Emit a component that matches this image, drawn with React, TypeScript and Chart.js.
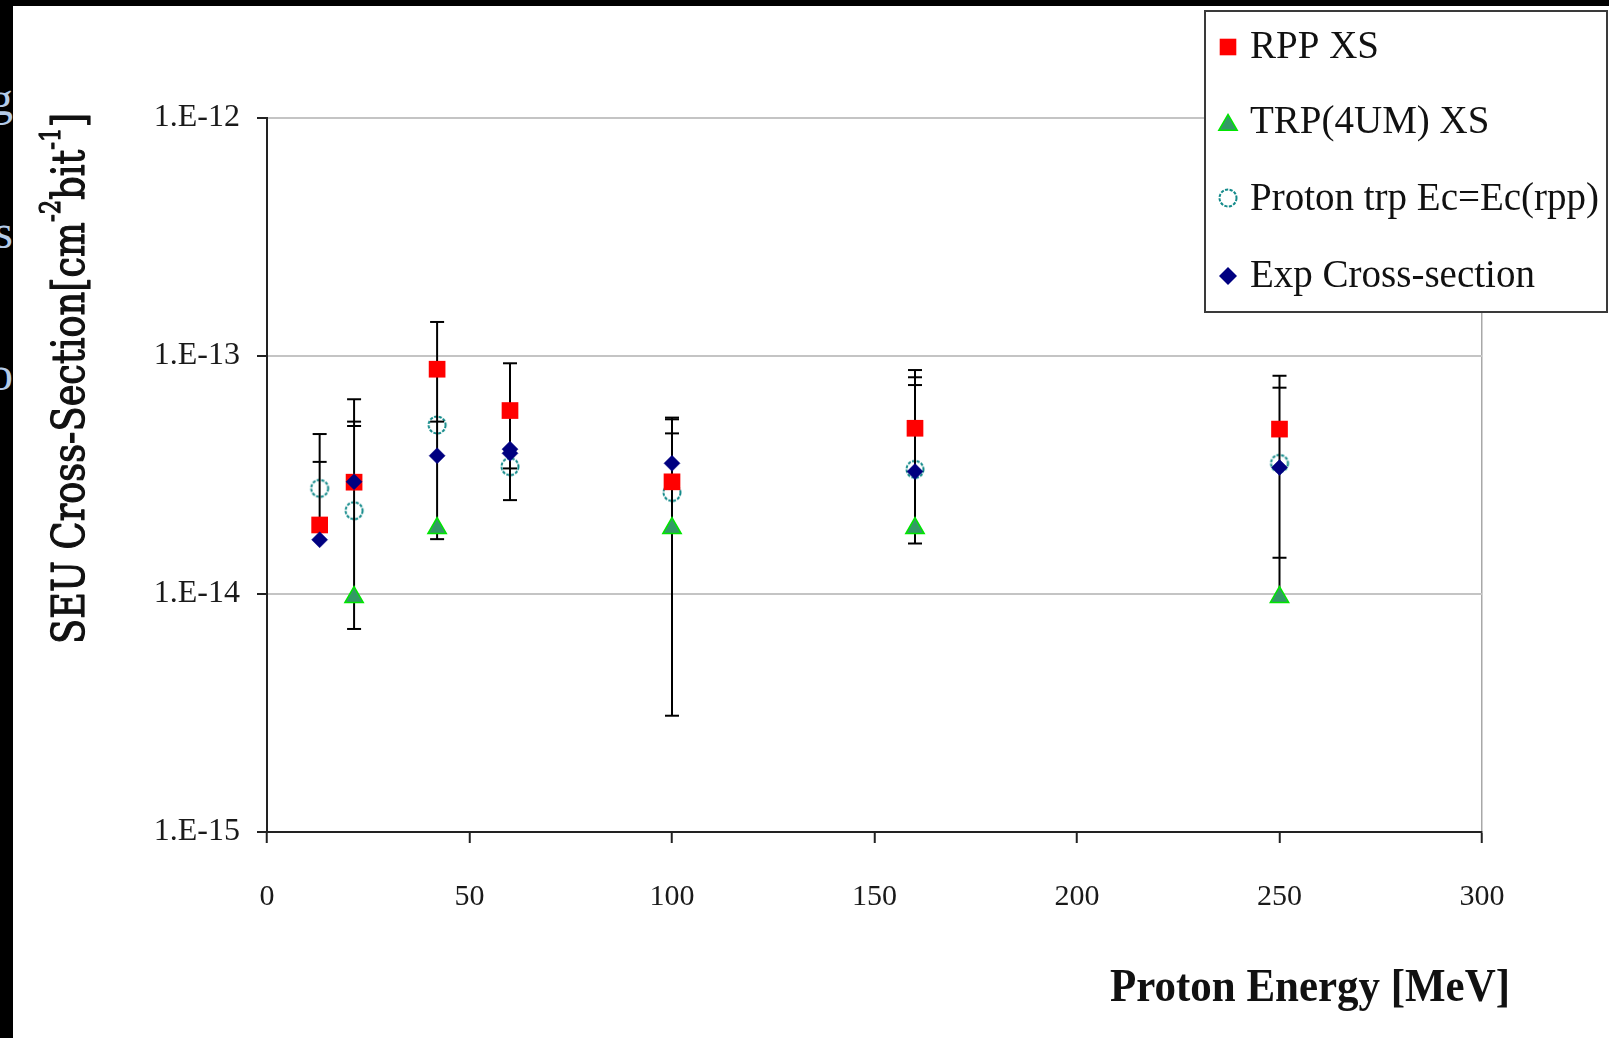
import React, { useEffect, useRef } from 'react';
import { Chart, registerables } from 'chart.js';

Chart.register(...registerables);

// ---- data ----
const rppX = [13, 21.5, 42, 60, 100, 160, 250];
const rppY = [1.95e-14, 2.95e-14, 8.8e-14, 5.9e-14, 2.96e-14, 4.97e-14, 4.93e-14];

const trpX = [21.5, 42, 100, 160, 250];
const trpY = [9.7e-15, 1.89e-14, 1.89e-14, 1.89e-14, 9.7e-15];

const protonX = [13, 21.5, 42, 60, 100, 160, 250];
const protonY = [2.78e-14, 2.24e-14, 5.13e-14, 3.43e-14, 2.67e-14, 3.34e-14, 3.54e-14];

const expX = [13, 21.5, 42, 60, 60, 100, 160, 250];
const expY = [1.69e-14, 2.96e-14, 3.81e-14, 4.06e-14, 3.9e-14, 3.54e-14, 3.27e-14, 3.4e-14];

const errX = [13, 21.5, 42, 60, 100, 160, 250];
const errHigh = [4.7e-14, 6.58e-14, 1.39e-13, 9.32e-14, 5.5e-14, 8.73e-14, 8.26e-14];
const errLow = [1.95e-14, 7.13e-15, 1.7e-14, 2.48e-14, 3.08e-15, 1.63e-14, 9.7e-15];
const errCaps = [
  [4.7e-14, 3.59e-14],
  [6.58e-14, 5.3e-14, 5.08e-14, 7.13e-15],
  [1.39e-13, 5.3e-14, 1.7e-14],
  [9.32e-14, 3.37e-14, 2.48e-14],
  [5.51e-14, 5.42e-14, 4.73e-14, 3.08e-15],
  [8.73e-14, 8.14e-14, 7.55e-14, 1.63e-14],
  [8.26e-14, 7.36e-14, 1.42e-14],
];

const yTicks = [1e-15, 1e-14, 1e-13, 1e-12];
const yTickLabels = ['1.E-15', '1.E-14', '1.E-13', '1.E-12'];
const xTicks = [0, 50, 100, 150, 200, 250, 300];
const xTickLabels = ['0', '50', '100', '150', '200', '250', '300'];

const seriesNames = ['RPP XS', 'TRP(4UM) XS', 'Proton trp Ec=Ec(rpp)', 'Exp Cross-section'];
const xTitle = 'Proton Energy [MeV]';
const yTitleParts = [
  { t: 'SEU Cross-Section[cm', sup: false },
  { t: '-2', sup: true },
  { t: 'bit', sup: false },
  { t: '-1', sup: true },
  { t: ']', sup: false },
];

const RED = '#ff0000';
const NAVY = '#000080';
const TRI_FILL = '#339966';
const TRI_EDGE = '#00e600';
const TEAL = '#138a8a';

function makeCircle(): HTMLCanvasElement {
  const c = document.createElement('canvas');
  c.width = 24;
  c.height = 24;
  const g = c.getContext('2d')!;
  g.strokeStyle = TEAL;
  g.lineWidth = 2;
  g.setLineDash([3.2, 1.4]);
  g.beginPath();
  g.arc(12, 12, 8.5, 0, Math.PI * 2);
  g.stroke();
  return c;
}

export default function App() {
  const ref = useRef<HTMLCanvasElement | null>(null);

  useEffect(() => {
    if (!ref.current) return;
    const circleImg = makeCircle();

    const errorBars = {
      id: 'errorBars',
      beforeDatasetDraw(chart: any, args: any) {
        if (args.index !== 2) return;
        const { ctx } = chart;
        const x = chart.scales.x;
        const y = chart.scales.y;
        ctx.save();
        ctx.strokeStyle = '#000';
        ctx.lineWidth = 2;
        errX.forEach((e, i) => {
          const px = x.getPixelForValue(e);
          ctx.beginPath();
          ctx.moveTo(px, y.getPixelForValue(errHigh[i]));
          ctx.lineTo(px, y.getPixelForValue(errLow[i]));
          ctx.stroke();
          errCaps[i].forEach((c) => {
            const py = y.getPixelForValue(c);
            ctx.beginPath();
            ctx.moveTo(px - 7, py);
            ctx.lineTo(px + 7, py);
            ctx.stroke();
          });
        });
        ctx.restore();
      },
    };

    const decorations = {
      id: 'decorations',
      afterDraw(chart: any) {
        const ctx: CanvasRenderingContext2D = chart.ctx;
        // ---- y title (rotated) ----
        ctx.save();
        ctx.fillStyle = '#111';
        ctx.strokeStyle = '#111';
        ctx.lineWidth = 1.1;
        ctx.lineJoin = 'round';
        const mainFont = '40px "DejaVu Serif"';
        const supFont = '25px "DejaVu Serif"';
        let total = 0;
        yTitleParts.forEach((p) => {
          ctx.font = p.sup ? supFont : mainFont;
          total += ctx.measureText(p.t).width;
        });
        ctx.translate(84, 644);
        ctx.rotate(-Math.PI / 2);
        ctx.scale(531 / total, 32 / (0.729 * 40));
        ctx.textBaseline = 'alphabetic';
        let cx = 0;
        yTitleParts.forEach((p) => {
          ctx.font = p.sup ? supFont : mainFont;
          const yy = p.sup ? -22 : 0;
          ctx.fillText(p.t, cx, yy);
          ctx.strokeText(p.t, cx, yy);
          cx += ctx.measureText(p.t).width;
        });
        ctx.restore();

        // ---- x title ----
        ctx.save();
        ctx.fillStyle = '#111';
        ctx.font = 'bold 40px "Liberation Serif"';
        const w = ctx.measureText(xTitle).width;
        ctx.translate(1110, 1001);
        ctx.scale(400 / w, 31 / (0.662 * 40));
        ctx.textBaseline = 'alphabetic';
        ctx.fillText(xTitle, 0, 0);
        ctx.restore();

        // ---- legend ----
        ctx.save();
        ctx.fillStyle = '#fff';
        ctx.fillRect(1205, 11, 402, 301);
        ctx.strokeStyle = '#3a3a3a';
        ctx.lineWidth = 2;
        ctx.strokeRect(1205, 11, 402, 301);
        const mx = 1228;
        // square
        ctx.fillStyle = RED;
        ctx.fillRect(mx - 8.3, 47 - 8.3, 16.6, 16.6);
        // triangle
        const r = 10.6;
        const ty = 125;
        ctx.beginPath();
        ctx.moveTo(mx, ty - r);
        ctx.lineTo(mx + r * Math.sin((2 * Math.PI) / 3), ty + r / 2);
        ctx.lineTo(mx - r * Math.sin((2 * Math.PI) / 3), ty + r / 2);
        ctx.closePath();
        ctx.fillStyle = TRI_FILL;
        ctx.fill();
        ctx.strokeStyle = TRI_EDGE;
        ctx.lineWidth = 1.5;
        ctx.stroke();
        // circle
        ctx.drawImage(circleImg, mx - 12, 198 - 12);
        // diamond
        const d = 9;
        const dy = 276;
        ctx.beginPath();
        ctx.moveTo(mx - d, dy);
        ctx.lineTo(mx, dy - d);
        ctx.lineTo(mx + d, dy);
        ctx.lineTo(mx, dy + d);
        ctx.closePath();
        ctx.fillStyle = NAVY;
        ctx.fill();

        ctx.fillStyle = '#111';
        ctx.font = '39px "Liberation Serif"';
        ctx.textBaseline = 'alphabetic';
        const baselines = [58, 133, 210, 287];
        seriesNames.forEach((n, i) => ctx.fillText(n, 1250, baselines[i]));
        ctx.restore();
      },
    };

    const chart = new Chart(ref.current, {
      type: 'scatter',
      data: {
        datasets: [
          {
            label: seriesNames[3],
            data: expX.map((x, i) => ({ x, y: expY[i] })),
            pointStyle: 'rectRot',
            pointRadius: 8,
            backgroundColor: NAVY,
            borderColor: NAVY,
            borderWidth: 0.5,
          },
          {
            label: seriesNames[0],
            data: rppX.map((x, i) => ({ x, y: rppY[i] })),
            pointStyle: 'rect',
            pointRadius: 11.8,
            backgroundColor: RED,
            borderColor: RED,
            borderWidth: 0,
          },
          {
            label: seriesNames[1],
            data: trpX.map((x, i) => ({ x, y: trpY[i] })),
            pointStyle: 'triangle',
            pointRadius: 10.6,
            backgroundColor: TRI_FILL,
            borderColor: TRI_EDGE,
            borderWidth: 1.5,
          },
          {
            label: seriesNames[2],
            data: protonX.map((x, i) => ({ x, y: protonY[i] })),
            pointStyle: circleImg as any,
            pointRadius: 9,
            backgroundColor: 'rgba(0,0,0,0)',
            borderColor: TEAL,
          },
        ],
      },
      options: {
        responsive: false,
        animation: false,
        devicePixelRatio: 1,
        layout: { padding: { left: 0, top: 118, right: 127, bottom: 0 } },
        plugins: {
          legend: { display: false },
          tooltip: { enabled: false },
        },
        scales: {
          x: {
            type: 'linear',
            min: 0,
            max: 300,
            afterBuildTicks: (s: any) => {
              s.ticks = xTicks.map((v) => ({ value: v }));
            },
            afterFit: (s: any) => {
              s.height = 206;
            },
            ticks: {
              callback: (_v: any, i: number) => xTickLabels[i],
              font: { family: '"Liberation Serif"', size: 30 },
              color: '#1a1a1a',
              padding: 36,
              maxRotation: 0,
              autoSkip: false,
            },
            grid: {
              color: (c: any) => (c.tick && c.tick.value === 300 ? '#a8a8a8' : 'rgba(0,0,0,0)'),
              lineWidth: 1.5,
              tickColor: '#222',
              tickLength: 11,
              tickWidth: 2,
            },
            border: { color: '#222', width: 2 },
          },
          y: {
            type: 'logarithmic',
            min: 1e-15,
            max: 1e-12,
            afterBuildTicks: (s: any) => {
              s.ticks = yTicks.map((v) => ({ value: v }));
            },
            afterFit: (s: any) => {
              s.width = 267;
            },
            ticks: {
              callback: (_v: any, i: number) => yTickLabels[i],
              font: { family: '"Liberation Serif"', size: 32 },
              color: '#1a1a1a',
              padding: 17,
              autoSkip: false,
            },
            grid: {
              color: '#c4c4c4',
              lineWidth: 2,
              tickColor: '#222',
              tickLength: 10,
              tickWidth: 2,
            },
            border: { color: '#222', width: 2 },
          },
        },
      },
      plugins: [errorBars, decorations],
    } as any);

    return () => chart.destroy();
  }, []);

  const faint: React.CSSProperties = {
    position: 'absolute',
    right: 0,
    font: '48px "Liberation Serif"',
    color: '#b4cbe8',
    lineHeight: 1,
  };

  return (
    <div
      style={{
        position: 'fixed',
        left: 0,
        top: 0,
        width: 1609,
        height: 1038,
        background: '#000',
        overflow: 'hidden',
      }}
    >
      <div style={{ position: 'absolute', left: 0, top: 0, width: 13, height: 1038, overflow: 'hidden' }}>
        <span style={{ ...faint, top: 75 }}>g</span>
        <span style={{ ...faint, top: 208 }}>s</span>
        <span style={{ ...faint, top: 350 }}>o</span>
      </div>
      <div
        style={{ position: 'absolute', left: 13, top: 6, width: 1596, height: 1032, background: '#fff' }}
      />
      <canvas
        ref={ref}
        width={1609}
        height={1038}
        style={{ position: 'absolute', left: 0, top: 0, width: 1609, height: 1038 }}
      />
    </div>
  );
}
